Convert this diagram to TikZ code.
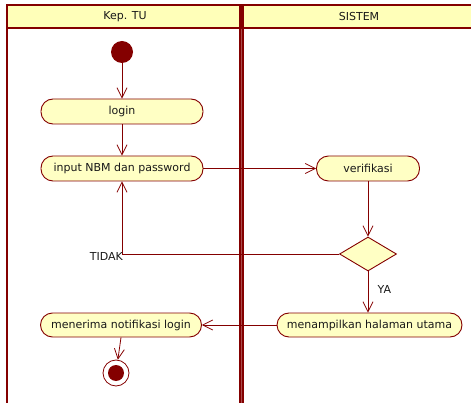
\documentclass[tikz,border=0pt]{standalone}
\usepackage{fontspec}
\setmainfont{DejaVu Sans}
\usetikzlibrary{arrows.meta,shapes.geometric}
\definecolor{umlred}{HTML}{840000}
\definecolor{umlfill}{HTML}{FFFFC4}
\definecolor{hdrfill}{HTML}{FFFFB9}
\begin{document}
\begin{tikzpicture}[x=1pt,y=-1pt,
  txt/.style={font=\fontsize{11}{13}\selectfont, text=black!90},
  act/.style={txt, draw=umlred, fill=umlfill, rounded corners=12pt, minimum height=25pt, inner sep=0pt, line width=0.9pt},
  flow/.style={draw=umlred, line width=0.8pt, -{Straight Barb[length=10pt,width=10pt]}},
  lane/.style={draw=umlred, line width=2pt}
]
\useasboundingbox (0,0) rectangle (471,403);
% swimlanes
\fill[hdrfill] (7,5) rectangle (480,28);
\draw[lane] (7,410) -- (7,5) -- (480,5);
\draw[lane] (7,28) -- (480,28);
\draw[umlred, line width=4.5pt] (241.5,5) -- (241.5,410);
\draw[umlred!70!white, line width=0.8pt] (241.5,29) -- (241.5,410);
\node[txt] (h1) at (125,16.5) {Kep. TU};
\node[txt] (h2) at (359,16.5) {SISTEM};
% nodes
\node[circle, fill=umlred, minimum size=22pt, inner sep=0pt] (start) at (122,52) {};
\node[act, minimum width=162pt] (login) at (122,111.5) {login};
\node[act, minimum width=162pt] (input) at (122,168.5) {input NBM dan password};
\node[act, minimum width=103pt] (verif) at (368,168.5) {verifikasi};
\node[diamond, draw=umlred, fill=umlfill, line width=0.9pt, minimum width=57pt, minimum height=34pt, inner sep=0pt] (dec) at (368,254) {};
\node[act, minimum width=185pt, minimum height=24pt] (menamp) at (369.5,325) {menampilkan halaman utama};
\node[act, minimum width=161pt, minimum height=24pt] (menerima) at (121,325) {menerima notifikasi login};
\node[circle, draw=umlred, fill=white, line width=0.8pt, minimum size=26pt, inner sep=0pt] (final) at (116,373) {};
\node[circle, fill=umlred, minimum size=16pt, inner sep=0pt] (finalin) at (final.center) {};
% connectors
\draw[flow] (start) -- (login);
\draw[flow] (login) -- (input);
\draw[flow] (input.east) -- (verif.west);
\draw[flow] (verif) -- (dec.north);
\coordinate (tk) at (input.south |- dec.west);
\draw[flow] (dec.west) -- (tk) -- (input.south);
\node[txt, anchor=east, inner sep=0pt] (tidak) at ([xshift=1pt,yshift=-2.5pt]tk) {TIDAK};
\draw[flow] (dec.south) -- node[txt, right, pos=0.45, xshift=6pt] (ya) {YA} (dec.south |- menamp.north);
\draw[flow] (menamp.west) -- (menerima.east);
\draw[flow] (menerima.south) -- (final);
\end{tikzpicture}
\end{document}
